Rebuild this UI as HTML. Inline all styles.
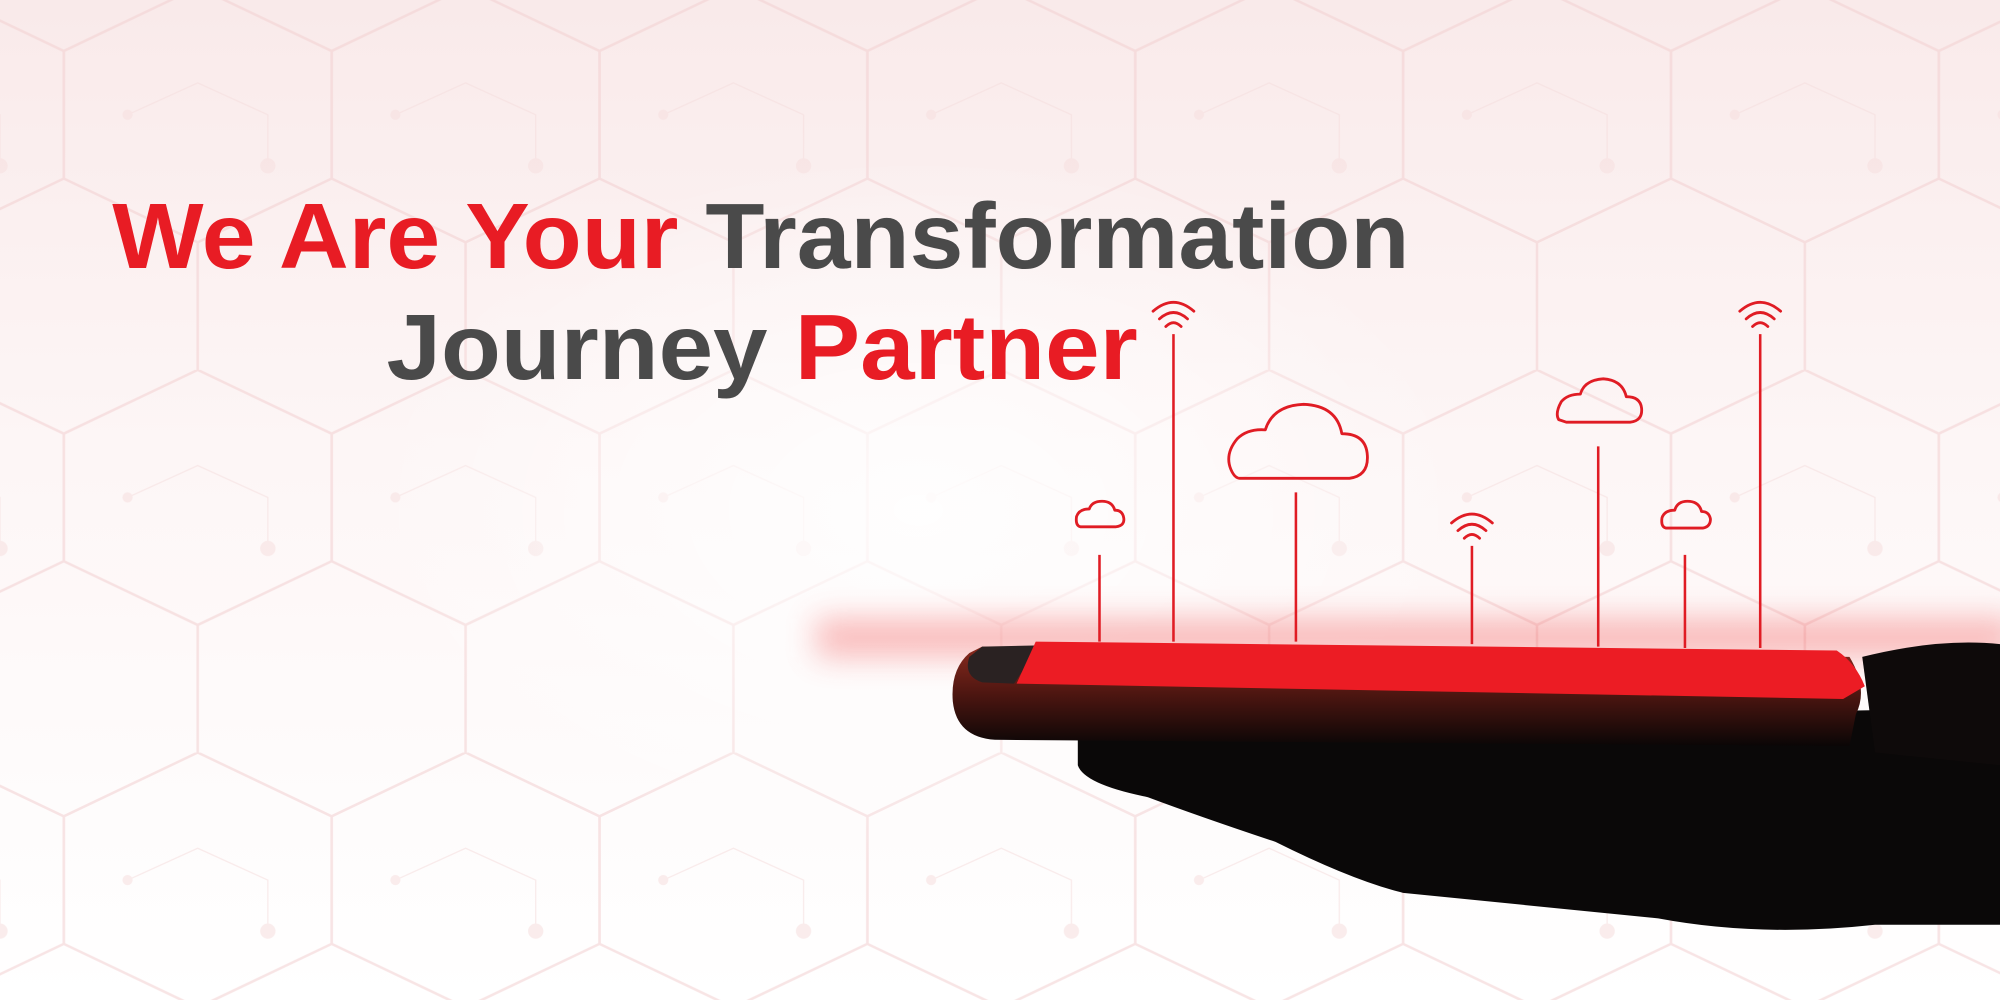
<!DOCTYPE html>
<html><head><meta charset="utf-8"><style>
html,body{margin:0;padding:0;width:2000px;height:1000px;overflow:hidden;background:#fff}
svg{display:block}
</style></head><body>
<svg width="2000" height="1000" viewBox="0 0 1568 784" preserveAspectRatio="none" xmlns="http://www.w3.org/2000/svg">
<defs>
<linearGradient id="bg" x1="0" y1="0" x2="0" y2="1">
<stop offset="0" stop-color="#f9eaea"/><stop offset="0.45" stop-color="#fdf6f6"/><stop offset="1" stop-color="#ffffff"/>
</linearGradient>
<pattern id="hex" width="210" height="300" patternUnits="userSpaceOnUse" x="50" y="-10">
<g fill="none" stroke="#f2cfd0" stroke-width="2">
<path d="M0 50 L105 0 L210 50 L210 150 L105 200 L0 150 Z"/>
<path d="M105 200 L105 300"/>
<path d="M0 150 L0 50"/>
</g>
<g fill="none" stroke="#f4dcdc" stroke-width="1">
<path d="M50 100 L105 75 L160 100 L160 140"/>
</g>
<circle cx="160" cy="140" r="6" fill="#f6dede"/>
<circle cx="50" cy="100" r="4" fill="#f6dede"/>
</pattern>
<radialGradient id="fade" cx="0.5" cy="0.5" r="0.5">
<stop offset="0" stop-color="#fff" stop-opacity="0.85"/><stop offset="1" stop-color="#fff" stop-opacity="0"/>
</radialGradient>
<linearGradient id="body" x1="0" y1="0" x2="0" y2="1">
<stop offset="0" stop-color="#8a2a1e"/><stop offset="0.5" stop-color="#4a1510"/><stop offset="1" stop-color="#0a0606"/>
</linearGradient>
<filter id="blur" x="-20%" y="-100%" width="140%" height="300%"><feGaussianBlur stdDeviation="12"/></filter>
</defs>
<rect width="1568" height="784" fill="url(#bg)"/>
<rect width="1568" height="784" fill="url(#hex)" opacity="0.55"/>
<ellipse cx="720" cy="400" rx="440" ry="280" fill="url(#fade)"/>
<!-- glow band -->
<rect x="640" y="485" width="940" height="30" fill="#f04040" opacity="0.35" filter="url(#blur)"/>
<!-- hand -->
<path d="M845 575 Q900 560 1000 565 L1568 555 L1568 725 L1470 725 Q1380 735 1300 720 L1100 700 Q1060 690 1000 660 Q940 640 900 625 Q850 615 845 600 Z" fill="#0a0808"/>
<path d="M1460 515 Q1520 500 1568 505 L1568 600 L1470 590 Z" fill="#0e0a0a"/>
<!-- phone body -->
<path d="M770 507 L1450 515 Q1465 540 1455 560 L1450 585 L780 580 Q750 578 747 550 Q745 525 760 512 Z" fill="url(#body)"/>
<path d="M770 507 L815 506 L795 536 L770 535 Q755 530 760 515 Z" fill="#2a2222"/>
<!-- screen -->
<path d="M812 503 L1440 510 Q1455 520 1462 538 L1445 548 L797 536 Z" fill="#ec1c24"/>
<!-- lines -->
<g stroke="#e01c24" stroke-width="2" fill="none">
<line x1="862" y1="435" x2="862" y2="503"/>
<line x1="920" y1="262" x2="920" y2="503"/>
<line x1="1016" y1="386" x2="1016" y2="503"/>
<line x1="1154" y1="428" x2="1154" y2="505"/>
<line x1="1253" y1="350" x2="1253" y2="507"/>
<line x1="1321" y1="435" x2="1321" y2="508"/>
<line x1="1380" y1="262" x2="1380" y2="508"/>
</g>
<!-- clouds -->
<g stroke="#e01c24" stroke-width="2.2" fill="none" stroke-linejoin="round">
<path d="M972 375 L1058 375 Q1073 373 1072 357 Q1071 340 1052 340 Q1048 318 1022 317 Q998 318 992 337 Q978 336 970 344 Q960 356 965 368 Q968 375 972 375 Z"/>
<path d="M1228 331 L1278 331 Q1288 330 1287 320 Q1286 311 1275 311 Q1272 298 1257 297 Q1242 298 1239 309 Q1229 309 1224 315 Q1219 324 1222 329 Z"/>
<path d="M847 413 L875 413 Q882 412 881 406 Q880 400 874 400 Q872 393 864 393 Q856 393 854 399 Q846 399 844 405 Q843 412 847 413 Z"/>
<path d="M1306 414 L1335 414 Q1341 413 1341 407 Q1340 401 1334 401 Q1332 393 1323 393 Q1315 393 1313 400 Q1305 400 1303 406 Q1302 413 1306 414 Z"/>
</g>
<!-- wifi -->
<g stroke="#e01c24" stroke-width="2.2" fill="none" stroke-linecap="round">
<g transform="translate(920,258)"><path d="M-16 -14 Q0 -28 16 -14"/><path d="M-11 -8 Q0 -18 11 -8"/><path d="M-6 -2 Q0 -8 6 -2"/></g>
<g transform="translate(1154,424)"><path d="M-16 -14 Q0 -28 16 -14"/><path d="M-11 -8 Q0 -18 11 -8"/><path d="M-6 -2 Q0 -8 6 -2"/></g>
<g transform="translate(1380,258)"><path d="M-16 -14 Q0 -28 16 -14"/><path d="M-11 -8 Q0 -18 11 -8"/><path d="M-6 -2 Q0 -8 6 -2"/></g>
</g>
<!-- title -->
<text x="88" y="210" font-family="Liberation Sans, sans-serif" font-weight="bold" font-size="73" textLength="1017" lengthAdjust="spacingAndGlyphs"><tspan fill="#e81c24">We Are Your </tspan><tspan fill="#4a4a4a">Transformation</tspan></text>
<text x="303" y="297" font-family="Liberation Sans, sans-serif" font-weight="bold" font-size="73" textLength="589" lengthAdjust="spacingAndGlyphs"><tspan fill="#4a4a4a">Journey </tspan><tspan fill="#e81c24">Partner</tspan></text>
</svg>
</body></html>
